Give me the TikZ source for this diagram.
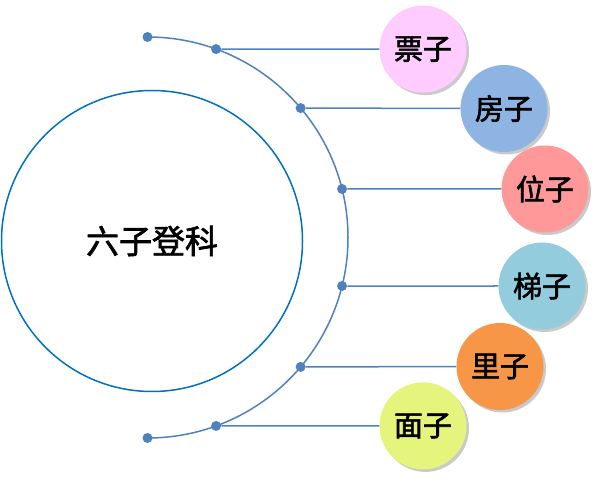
\documentclass[tikz,border=0pt]{standalone}
\usepackage{fontspec}
\newfontfamily\cjk[FakeBold=2]{Noto Sans CJK SC}
\usetikzlibrary{shadows}
\definecolor{ringblue}{HTML}{0070C0}
\definecolor{linkblue}{HTML}{4F81BD}
\definecolor{piaopink}{HTML}{FFCCFF}
\definecolor{fangblue}{HTML}{8EB4E3}
\definecolor{weired}{HTML}{FF9999}
\definecolor{tiblue}{HTML}{93CDDD}
\definecolor{liorange}{HTML}{F79646}
\definecolor{mianyellow}{HTML}{E4F47C}

\begin{document}
\begin{tikzpicture}[x=1pt,y=1pt,
  link/.style={linkblue,line width=1.5pt},
  dot/.style={circle,fill=linkblue,inner sep=0pt,minimum size=10pt},
  bubble/.style={circle,minimum size=87pt,inner sep=0pt,
    font=\cjk\fontsize{29}{29}\selectfont,
    drop shadow={shadow xshift=2.5pt,shadow yshift=-2.5pt,opacity=0.35,fill=black!60}}]
  \useasboundingbox (0,0) rectangle (599,482);

  \node[circle,draw=ringblue,line width=1.5pt,minimum size=301pt,inner sep=0pt,
        font=\cjk\fontsize{33}{33}\selectfont] (main) at (152,241) {六子登科};

  \coordinate (c) at (147.5,244.5);
  \draw[link] (c) ++(90:200.5) arc (90:-90:200.5);

  \node[dot] (p0) at ([shift={(c)}]90:200.5) {};
  \node[dot] (p1) at ([shift={(c)}]70:200.5) {};
  \node[dot] (p2) at ([shift={(c)}]40.2:200.5) {};
  \node[dot] (p3) at ([shift={(c)}]14:200.5) {};
  \node[dot] (p4) at ([shift={(c)}]-14:200.5) {};
  \node[dot] (p5) at ([shift={(c)}]-40.2:200.5) {};
  \node[dot] (p6) at ([shift={(c)}]-70:200.5) {};
  \node[dot] (p7) at ([shift={(c)}]-90:200.5) {};

  \node[bubble,fill=piaopink]   (s1) at (423,432.9) {票子};
  \node[bubble,fill=fangblue]   (s2) at (504,373.5) {房子};
  \node[bubble,fill=weired]     (s3) at (545,293)   {位子};
  \node[bubble,fill=tiblue]     (s4) at (542,196)   {梯子};
  \node[bubble,fill=liorange]   (s5) at (500,115.5) {里子};
  \node[bubble,fill=mianyellow] (s6) at (423,56.1)  {面子};

  \path[link]
  (p1) edge (s1)
  (p2) edge (s2)
  (p3) edge (s3)
  (p4) edge (s4)
  (p5) edge (s5)
  (p6) edge (s6);
\end{tikzpicture}
\end{document}
